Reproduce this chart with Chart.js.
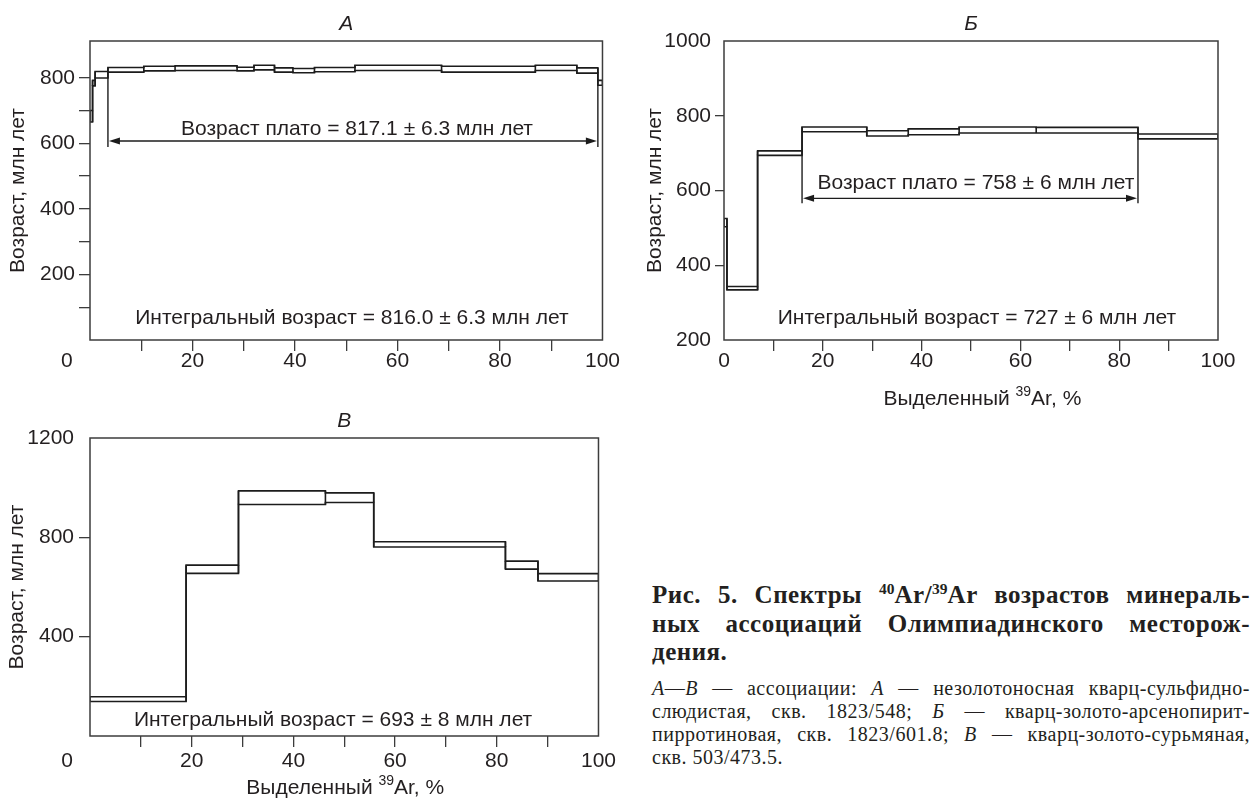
<!DOCTYPE html>
<html lang="ru">
<head>
<meta charset="utf-8">
<title>Спектры 40Ar/39Ar возрастов</title>
<script src="https://cdn.jsdelivr.net/npm/chart.js@4.4.1/dist/chart.umd.min.js"></script>
<style>
  html,body{margin:0;padding:0;background:#fff;}
  body{width:1257px;height:804px;position:relative;overflow:hidden;}
  .panel{position:absolute;}
  #pA{left:0;top:0;width:620px;height:385px;}
  #pB{left:620px;top:0;width:637px;height:412px;}
  #pV{left:0;top:400px;width:620px;height:404px;}
  #caption{position:absolute;left:652px;top:581px;width:598px;
    font-family:"Liberation Serif","Times New Roman",serif;color:#231f20;}
  .hd{font-weight:bold;font-size:25px;line-height:28.5px;letter-spacing:0.5px;}
  .sm{font-size:20px;line-height:23px;margin-top:10px;letter-spacing:0.5px;}
  .jl{text-align:justify;text-align-last:justify;}
  .ll{text-align:left;}
  sup{font-size:0.62em;vertical-align:baseline;position:relative;top:-0.55em;line-height:0;letter-spacing:0;}
</style>
</head>
<body>
<div class="panel" id="pA"><canvas id="cA"></canvas></div>
<div class="panel" id="pB"><canvas id="cB"></canvas></div>
<div class="panel" id="pV"><canvas id="cV"></canvas></div>

<div id="caption">
  <div class="hd">
    <div class="jl">Рис. 5. Спектры <sup>40</sup>Ar/<sup>39</sup>Ar возрастов минераль-</div>
    <div class="jl">ных ассоциаций Олимпиадинского месторож-</div>
    <div class="ll">дения.</div>
  </div>
  <div class="sm">
    <div class="jl"><i>А</i>—<i>В</i> — ассоциации: <i>А</i> — незолотоносная кварц-сульфидно-</div>
    <div class="jl">слюдистая, скв. 1823/548; <i>Б</i> — кварц-золото-арсенопирит-</div>
    <div class="jl">пирротиновая, скв. 1823/601.8; <i>В</i> — кварц-золото-сурьмяная,</div>
    <div class="ll">скв. 503/473.5.</div>
  </div>
</div>

<script>
// ================= DATA =================
// Panel А : step edges (% 39Ar released) and age band (млн лет)
const edgesA = [0, 0.5, 1.0, 3.5, 10.5, 16.6, 28.7, 32.0, 36.0, 39.6, 43.8, 51.7, 68.6, 86.9, 95.0, 99.1, 100];
const lowA   = [665, 775, 799, 817, 821, 822, 821, 824, 817, 815, 818, 822, 817, 822, 814, 777];
const highA  = [700, 792, 819, 831, 835, 836, 832, 838, 830, 828, 831, 838, 835, 838, 830, 792];
const plateauA = [3.5, 99.1];          // plateau span, %
const plateauArrowA = 607;             // age level of plateau arrow
const plateauTextA = "Возраст плато = 817.1 ± 6.3 млн лет";
const integralTextA = "Интегральный возраст = 816.0 ± 6.3 млн лет";

// Panel Б
const edgesB = [0, 0.6, 6.8, 15.8, 28.9, 37.3, 47.6, 63.2, 83.8, 100];
const lowB   = [503, 334, 694, 757, 746, 749, 754, 754, 738];
const highB  = [525, 343, 706, 770, 760, 765, 770, 769, 751];
const plateauB = [15.8, 83.8];
const plateauArrowB = 579;
const plateauTextB = "Возраст плато = 758 ± 6 млн лет";
const integralTextB = "Интегральный возраст = 727 ± 6 млн лет";

// Panel В
const edgesV = [0, 18.9, 29.2, 46.3, 55.8, 81.7, 88.1, 100];
const lowV   = [139, 655, 932, 940, 761, 672, 624];
const highV  = [158, 688, 987, 979, 782, 704, 654];
const integralTextV = "Интегральный возраст = 693 ± 8 млн лет";

// Axis ticks
const xTickValues   = [0, 10, 20, 30, 40, 50, 60, 70, 80, 90, 100];
const xTickMarks    = [10, 20, 30, 40, 50, 60, 70, 80, 90];
const xTickLabels   = [20, 40, 60, 80, 100];
const yTicksA       = [100, 200, 300, 400, 500, 600, 700, 800];
const yLabelsA      = [200, 400, 600, 800];
const yTicksB       = [200, 400, 600, 800, 1000];
const yMarksB       = [400, 600, 800];
const yTicksV       = [400, 800, 1200];
const yMarksV       = [400, 800];
const yRangeA = [0, 912], yRangeB = [200, 1000], yRangeV = [0, 1200];

const yTitle = "Возраст, млн лет";
const xTitle = {pre: "Выделенный ", sup: "39", post: "Ar, %"};
const panelLetters = ["А", "Б", "В"];

// ================= STYLE =================
const SANS = '"Liberation Sans", Arial, Helvetica, sans-serif';
const FS = 21;
const TEXT = "#231f20";
const LINE = "#1c1c1c";
const FRAME = "#3c3c3c";
const CLEAR = "rgba(0,0,0,0)";
Chart.defaults.font.family = SANS;
Chart.defaults.color = TEXT;

function outline(edges, low, high) {
  const upper = [], lower = [], sides = [];
  const n = low.length;
  for (let i = 0; i < n; i++) {
    upper.push({x: edges[i], y: high[i]});
    lower.push({x: edges[i], y: low[i]});
    sides.push({x: edges[i], y: low[i]}, {x: edges[i], y: high[i]}, {x: edges[i], y: null});
    sides.push({x: edges[i + 1], y: low[i]}, {x: edges[i + 1], y: high[i]}, {x: edges[i + 1], y: null});
  }
  upper.push({x: edges[n], y: high[n - 1]});
  lower.push({x: edges[n], y: low[n - 1]});
  const base = {showLine: true, pointRadius: 0, pointHoverRadius: 0, borderColor: LINE,
                borderWidth: 1.6, fill: false, tension: 0, spanGaps: false};
  return [
    Object.assign({data: upper, stepped: true}, base),
    Object.assign({data: lower, stepped: true}, base),
    Object.assign({data: sides}, base)
  ];
}

function lowAt(edges, low, xv) {
  let best = Infinity;
  for (let i = 0; i < low.length; i++) {
    if (Math.abs(edges[i] - xv) < 1e-6 || Math.abs(edges[i + 1] - xv) < 1e-6 ||
        (edges[i] < xv && edges[i + 1] > xv)) best = Math.min(best, low[i]);
  }
  return best;
}

const decor = {
  id: 'decor',
  afterDraw(chart, args, o) {
    const {ctx, chartArea: a} = chart;
    const xs = chart.scales.x, ys = chart.scales.y;
    ctx.save();
    ctx.lineWidth = 1.5; ctx.strokeStyle = FRAME;
    ctx.strokeRect(a.left, a.top, a.right - a.left, a.bottom - a.top);

    ctx.fillStyle = TEXT;
    ctx.textAlign = 'center'; ctx.textBaseline = 'middle';
    ctx.font = `italic ${FS}px ${SANS}`;
    ctx.fillText(o.letter, (a.left + a.right) / 2, a.top - o.letterGap);

    ctx.font = `${FS}px ${SANS}`;
    for (const t of o.texts) ctx.fillText(t.text, xs.getPixelForValue(t.x), ys.getPixelForValue(t.y));

    if (o.zeroAt !== undefined) {
      ctx.fillText("0", xs.getPixelForValue(o.zeroAt), xs.top + o.tickLen + o.tickPad + FS / 2);
    }

    if (o.plateau) {
      const p = o.plateau;
      const yA = ys.getPixelForValue(p.y);
      const x0 = xs.getPixelForValue(p.span[0]), x1 = xs.getPixelForValue(p.span[1]);
      ctx.strokeStyle = LINE; ctx.lineWidth = 1.4;
      for (const xv of p.span) {
        const px = xs.getPixelForValue(xv);
        ctx.beginPath();
        ctx.moveTo(px, ys.getPixelForValue(lowAt(p.edges, p.low, xv)));
        ctx.lineTo(px, yA + p.drop);
        ctx.stroke();
      }
      const AL = 11, AW = 3.5;
      ctx.beginPath(); ctx.moveTo(x0 + AL, yA); ctx.lineTo(x1 - AL, yA); ctx.stroke();
      ctx.fillStyle = LINE;
      ctx.beginPath(); ctx.moveTo(x0 + 1, yA); ctx.lineTo(x0 + AL + 1, yA - AW); ctx.lineTo(x0 + AL + 1, yA + AW); ctx.closePath(); ctx.fill();
      ctx.beginPath(); ctx.moveTo(x1 - 1, yA); ctx.lineTo(x1 - AL - 1, yA - AW); ctx.lineTo(x1 - AL - 1, yA + AW); ctx.closePath(); ctx.fill();
      ctx.fillStyle = TEXT;
    }

    if (o.xTitle) {
      const main = `${FS}px ${SANS}`, small = `${Math.round(FS * 0.66)}px ${SANS}`;
      ctx.textAlign = 'left'; ctx.textBaseline = 'alphabetic';
      ctx.font = main; const w1 = ctx.measureText(xTitle.pre).width;
      ctx.font = small; const w2 = ctx.measureText(xTitle.sup).width;
      ctx.font = main; const w3 = ctx.measureText(xTitle.post).width;
      let cx = xs.getPixelForValue(o.xTitle.at) - (w1 + w2 + w3) / 2;
      const base = a.bottom + o.xTitle.dy + FS * 0.36;
      ctx.fillText(xTitle.pre, cx, base); cx += w1;
      ctx.font = small; ctx.fillText(xTitle.sup, cx, base - FS * 0.4); cx += w2;
      ctx.font = main; ctx.fillText(xTitle.post, cx, base);
    }
    ctx.restore();
  }
};

function makePanel(id, cfg) {
  const tickLenX = 11;
  return new Chart(document.getElementById(id), {
    type: 'scatter',
    data: {datasets: outline(cfg.edges, cfg.low, cfg.high)},
    plugins: [decor],
    options: {
      responsive: true, maintainAspectRatio: false, animation: false, devicePixelRatio: 1,
      layout: {padding: cfg.padding},
      events: [],
      plugins: {
        legend: {display: false}, tooltip: {enabled: false},
        decor: {
          letter: cfg.letter, letterGap: 17, texts: cfg.texts, zeroAt: cfg.zeroAt,
          tickLen: tickLenX, tickPad: cfg.xPad, plateau: cfg.plateau, xTitle: cfg.xTitle
        }
      },
      scales: {
        x: {
          type: 'linear', position: 'bottom', min: 0, max: 100,
          afterBuildTicks: s => { s.ticks = xTickValues.map(v => ({value: v})); },
          afterFit: s => { s.height = cfg.xHeight; },
          ticks: {
            autoSkip: false, maxRotation: 0, minRotation: 0, padding: cfg.xPad,
            font: {size: FS, lineHeight: 1}, color: TEXT,
            callback: v => (xTickLabels.includes(v) || (v === 0 && cfg.zeroAt === undefined)) ? String(v) : ''
          },
          grid: {drawOnChartArea: false, drawTicks: true, tickLength: tickLenX, lineWidth: 1.3,
                 color: c => (c.tick && xTickMarks.includes(c.tick.value)) ? FRAME : CLEAR},
          border: {display: false}
        },
        y: {
          type: 'linear', position: 'left', min: cfg.yRange[0], max: cfg.yRange[1],
          afterBuildTicks: s => { s.ticks = cfg.yTicks.map(v => ({value: v})); },
          afterFit: s => { s.width = cfg.yWidth; },
          ticks: {
            autoSkip: false, padding: cfg.yPad, font: {size: FS, lineHeight: 1}, color: TEXT,
            callback: v => cfg.yLabels.includes(v) ? String(v) : ''
          },
          grid: {drawOnChartArea: false, drawTicks: true, tickLength: cfg.yTickLen, lineWidth: 1.3,
                 color: c => (c.tick && cfg.yMarks.includes(c.tick.value)) ? FRAME : CLEAR},
          border: {display: false},
          title: {display: true, text: yTitle, color: TEXT, font: {size: FS, lineHeight: 1},
                  padding: {top: cfg.yTitlePad, bottom: 0}}
        }
      }
    }
  });
}

makePanel('cA', {
  edges: edgesA, low: lowA, high: highA, letter: panelLetters[0],
  padding: {top: 41, right: 17, left: 0, bottom: 0},
  xHeight: 45, xPad: 0, yWidth: 90, yPad: 4, yTickLen: 11, yTitlePad: 8,
  yRange: yRangeA, yTicks: yTicksA, yLabels: yLabelsA, yMarks: yTicksA,
  zeroAt: -4.5,
  texts: [{text: plateauTextA, x: 52.1, y: 642}, {text: integralTextA, x: 51.1, y: 65}],
  plateau: {span: plateauA, y: plateauArrowA, drop: 6, edges: edgesA, low: lowA}
});

makePanel('cB', {
  edges: edgesB, low: lowB, high: highB, letter: panelLetters[1],
  padding: {top: 41, right: 39, left: 0, bottom: 0},
  xHeight: 72, xPad: 0, yWidth: 104, yPad: 4, yTickLen: 9, yTitlePad: 25,
  yRange: yRangeB, yTicks: yTicksB, yLabels: yTicksB, yMarks: yMarksB,
  texts: [{text: plateauTextB, x: 51.0, y: 619}, {text: integralTextB, x: 51.2, y: 258}],
  plateau: {span: plateauB, y: plateauArrowB, drop: 5, edges: edgesB, low: lowB},
  xTitle: {at: 52.3, dy: 57}
});

makePanel('cV', {
  edges: edgesV, low: lowV, high: highV, letter: panelLetters[2],
  padding: {top: 38, right: 17, left: 0, bottom: 0},
  xHeight: 68, xPad: 4, yWidth: 90, yPad: 5, yTickLen: 11, yTitlePad: 7,
  yRange: yRangeV, yTicks: yTicksV, yLabels: yTicksV, yMarks: yMarksV,
  zeroAt: -4.5,
  texts: [{text: integralTextV, x: 47.8, y: 64}],
  xTitle: {at: 50.2, dy: 50}
});
</script>
</body>
</html>
